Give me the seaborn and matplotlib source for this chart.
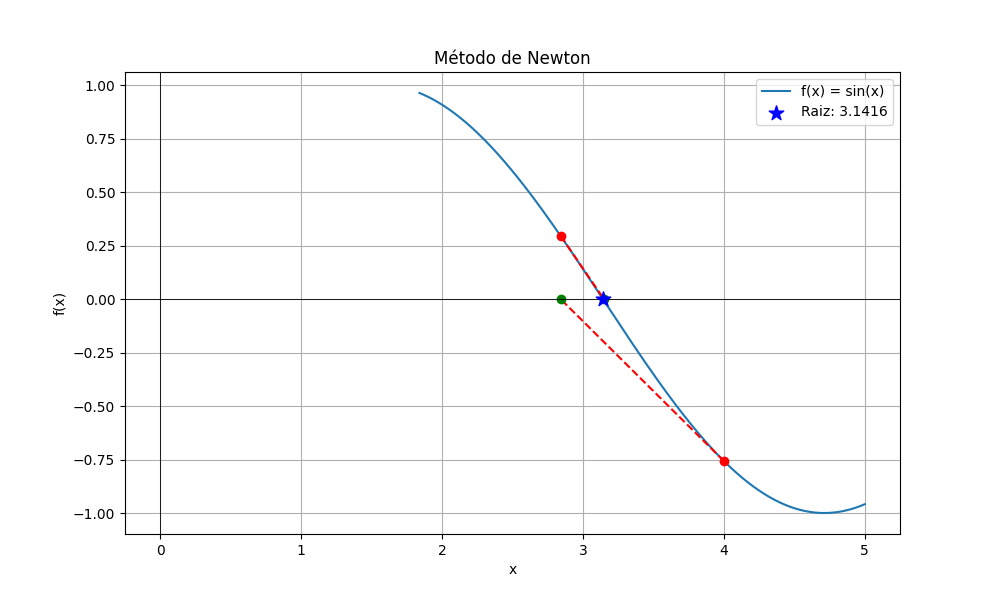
import matplotlib
matplotlib.use("Agg")
import matplotlib.pyplot as plt
import seaborn as sns
import numpy as np
import pandas as pd

# Newton iterations
iter_x = [4.0, 2.8422, 3.1488]
iter_fx = [-0.7568, 0.2955, -0.0072]
root = 3.1416
curve_start, curve_end = 1.84, 5.0

xs = np.linspace(curve_start, curve_end, 400)
curve = pd.DataFrame({"x": xs, "y": np.sin(xs)})

fig, ax = plt.subplots(figsize=(10, 6), dpi=100)
sns.lineplot(data=curve, x="x", y="y", ax=ax, label="f(x) = sin(x)")

for i in range(len(iter_x) - 1):
    ax.plot(iter_x[i], iter_fx[i], "ro")
    ax.plot([iter_x[i], iter_x[i + 1]], [iter_fx[i], 0], "r--")
    ax.plot(iter_x[i + 1], 0, "go")

ax.scatter([root], [0], color="blue", marker="*", s=120, zorder=5, label=f"Raiz: {root:.4f}")
ax.axhline(0, color="black", linewidth=0.6)
ax.axvline(0, color="black", linewidth=0.6)
ax.set_title("Método de Newton")
ax.set_xlabel("x")
ax.set_ylabel("f(x)")
ax.grid(True)
ax.legend(loc="upper right")
plt.savefig("out.png")
